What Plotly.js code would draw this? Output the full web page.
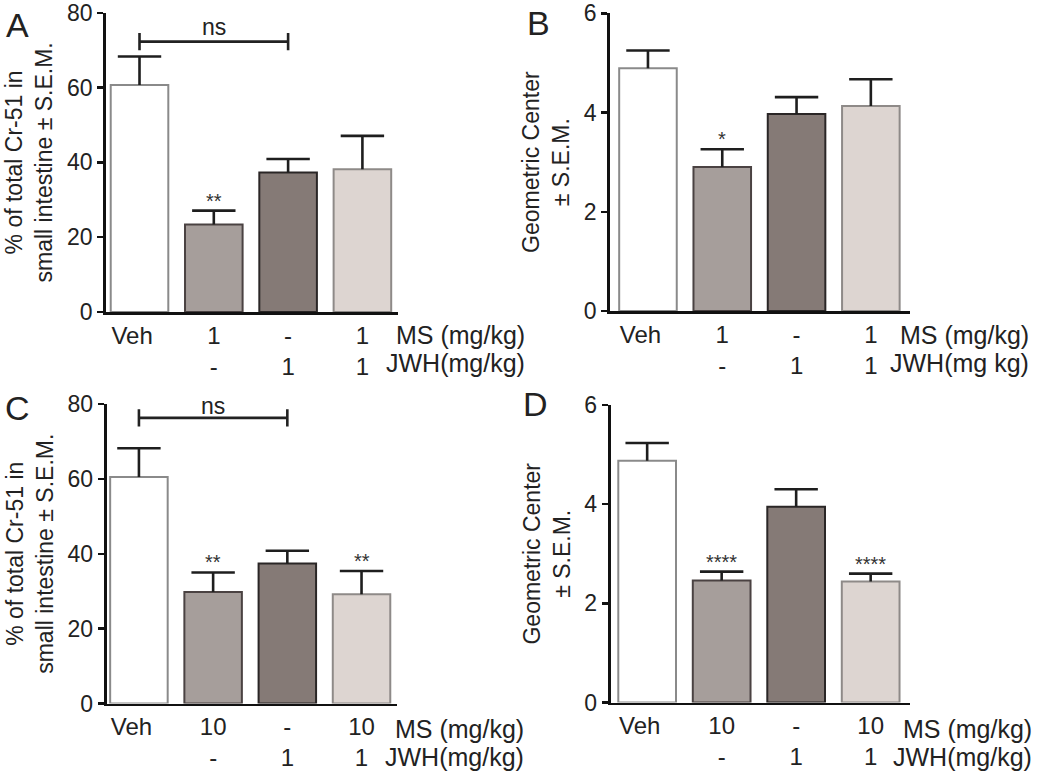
<!DOCTYPE html>
<html><head><meta charset="utf-8">
<script src="https://cdn.plot.ly/plotly-3.0.1.min.js"></script>
<style>html,body{margin:0;padding:0;background:#fff}#chart{width:1050px;height:775px}</style>
</head><body><div id="chart"></div>
<script>
// ---- data ----
const groupIdx = [0, 1, 2, 3];
const msDoseTop = ['Veh', '1', '-', '1'];
const jwhDoseTop = ['', '-', '1', '1'];
const msDoseBottom = ['Veh', '10', '-', '10'];
const jwhDoseBottom = ['', '-', '1', '1'];

const crA_mean = [60.7, 23.4, 37.3, 38.2];
const crA_sem  = [7.6, 3.7, 3.6, 8.9];
const gcB_mean = [4.89, 2.90, 3.97, 4.13];
const gcB_sem  = [0.36, 0.36, 0.34, 0.54];
const crC_mean = [60.5, 29.8, 37.4, 29.2];
const crC_sem  = [7.7, 5.2, 3.4, 6.2];
const gcD_mean = [4.875, 2.46, 3.95, 2.44];
const gcD_sem  = [0.36, 0.18, 0.35, 0.16];

const sigA = ['', '**', '', ''];
const sigB = ['', '*', '', ''];
const sigC = ['', '**', '', '**'];
const sigD = ['', '****', '', '****'];

// ns comparison brackets: [from group, to group, y value]
const nsA = [0, 2, 72.3];
const nsC = [0, 2, 76.3];

const rowLabelsAB = ['MS (mg/kg)', 'JWH(mg/kg)'];
const rowLabelsB  = ['MS (mg/kg)', 'JWH(mg kg)'];
const rowLabelsCD = ['MS (mg/kg)', 'JWH(mg/kg)'];
const panelLetters = ['A', 'B', 'C', 'D'];
const crTitle = '% of total Cr-51 in<br>small intestine \u00b1 S.E.M.';
const gcTitle = 'Geometric Center<br>\u00b1 S.E.M.';

// ---- styles ----
const W = 1050, H = 775;
const FONT = 'Liberation Sans, Arial, sans-serif';
const TXT = '#222';
const fillColors = ['#ffffff', '#a69e9b', '#857a76', '#ddd5d1'];
const lineColors = ['#8a8a8a', '#4a4242', '#2a2626', '#8e8a88'];
const tickShift = [-0.1, 0, 0, 0];

const px = v => v / W;
const py = v => 1 - v / H;

const panels = [
  {mean: crA_mean, sem: crA_sem, sig: sigA, ms: msDoseTop, jwh: jwhDoseTop, rows: rowLabelsAB,
   xd: [106, 398], xr: [-0.451, 3.479], yd: [312, 12.8], yr: [0, 80], dt: 20, title: crTitle,
   ns: nsA, nsTick: 2.3, nsShift: 0, letter: [17, 25], rowY: [335, 363], rowRight: 527},
  {mean: gcB_mean, sem: gcB_sem, sig: sigB, ms: msDoseTop, jwh: jwhDoseTop, rows: rowLabelsB,
   xd: [610, 910], xr: [-0.511, 3.527], yd: [311, 13.3], yr: [0, 6], dt: 2, title: gcTitle,
   ns: null, letter: [538, 23], rowY: [335, 363], rowRight: 1031},
  {mean: crC_mean, sem: crC_sem, sig: sigC, ms: msDoseBottom, jwh: jwhDoseBottom, rows: rowLabelsCD,
   xd: [106.5, 397], xr: [-0.437, 3.478], yd: [703.5, 404], yr: [0, 80], dt: 20, title: crTitle,
   ns: nsC, nsTick: 2.3, nsShift: -3, letter: [17, 408], rowY: [729, 757], rowRight: 526},
  {mean: gcD_mean, sem: gcD_sem, sig: sigD, ms: msDoseBottom, jwh: jwhDoseBottom, rows: rowLabelsCD,
   xd: [610.5, 910], xr: [-0.492, 3.528], yd: [702.5, 405], yr: [0, 6], dt: 2, title: gcTitle,
   ns: null, letter: [535, 404], rowY: [729, 757], rowRight: 1034}
];

const data = [];
const layout = {
  width: W, height: H, margin: {l: 0, r: 0, t: 0, b: 0},
  paper_bgcolor: '#fff', plot_bgcolor: '#fff', showlegend: false,
  font: {family: FONT, color: TXT, size: 23},
  annotations: [], shapes: []
};

panels.forEach((p, i) => {
  const n = i === 0 ? '' : String(i + 1);
  const xa = 'x' + n, ya = 'y' + n;
  const tops = groupIdx.map(k => p.mean[k] + p.sem[k]);
  data.push({
    type: 'bar', x: groupIdx, y: p.mean, xaxis: xa, yaxis: ya, width: 0.775,
    marker: {color: fillColors, line: {color: lineColors, width: 2}},
    error_y: {type: 'data', array: p.sem, arrayminus: groupIdx.map(() => 0), symmetric: false,
              color: '#1e1e1e', thickness: 2.6, width: 0},
    hoverinfo: 'skip'
  });
  // error-bar caps (top only)
  data.push({
    type: 'scatter', mode: 'markers', x: groupIdx, y: tops, xaxis: xa, yaxis: ya,
    marker: {symbol: 'line-ew-open', size: 31, color: '#1e1e1e', line: {color: '#1e1e1e', width: 2.6}},
    hoverinfo: 'skip', cliponaxis: false
  });
  layout['xaxis' + n] = {
    domain: [px(p.xd[0]), px(p.xd[1])], range: p.xr, anchor: ya,
    showline: true, linecolor: '#111', linewidth: 2.8, ticks: '', showgrid: false, zeroline: false,
    tickvals: groupIdx.map(k => k + tickShift[k]),
    ticktext: groupIdx.map(k => p.ms[k] + '<br>' + (p.jwh[k] || ' ')),
    tickfont: {family: FONT, size: 24, color: TXT}, fixedrange: true
  };
  layout['yaxis' + n] = {
    domain: [py(p.yd[0]), py(p.yd[1])], range: p.yr, anchor: xa,
    showline: true, linecolor: '#111', linewidth: 2.8, ticks: 'outside', ticklen: 6, tickwidth: 2.4,
    tickcolor: '#111', dtick: p.dt, tick0: 0, showgrid: false, zeroline: false,
    ticklabeloverflow: 'allow',
    tickfont: {family: FONT, size: 23, color: TXT},
    title: {text: p.title, font: {family: FONT, size: 23, color: TXT}, standoff: 8}, fixedrange: true
  };
  // significance stars
  p.sig.forEach((s, k) => {
    if (!s) return;
    layout.annotations.push({xref: xa, yref: ya, x: groupIdx[k], y: tops[k], text: s,
      showarrow: false, yanchor: 'bottom', yshift: -3, font: {family: FONT, size: 20, color: '#333'}});
  });
  // ns bracket
  if (p.ns) {
    const [a, b, yv] = p.ns;
    const t = p.nsTick;
    layout.shapes.push({type: 'line', xref: xa, yref: ya, x0: a, x1: b, y0: yv, y1: yv, line: {color: '#222', width: 2.6}});
    layout.shapes.push({type: 'line', xref: xa, yref: ya, x0: a, x1: a, y0: yv - t, y1: yv + t, line: {color: '#222', width: 2.6}});
    layout.shapes.push({type: 'line', xref: xa, yref: ya, x0: b, x1: b, y0: yv - t, y1: yv + t, line: {color: '#222', width: 2.6}});
    layout.annotations.push({xref: xa, yref: ya, x: (a + b) / 2, y: yv, text: 'ns', showarrow: false,
      yanchor: 'bottom', yshift: p.nsShift, font: {family: FONT, size: 23, color: TXT}});
  }
  // row labels (MS / JWH)
  p.rows.forEach((r, k) => {
    layout.annotations.push({xref: 'paper', yref: 'paper', x: px(p.rowRight), y: py(p.rowY[k]), text: r,
      showarrow: false, xanchor: 'right', yanchor: 'middle', font: {family: FONT, size: 25, color: TXT}});
  });
  // panel letter
  layout.annotations.push({xref: 'paper', yref: 'paper', x: px(p.letter[0]), y: py(p.letter[1]), text: panelLetters[i],
    showarrow: false, xanchor: 'center', yanchor: 'middle', font: {family: FONT, size: 34, color: TXT}});
});

Plotly.newPlot('chart', data, layout, {displayModeBar: false, staticPlot: true});
</script></body></html>
